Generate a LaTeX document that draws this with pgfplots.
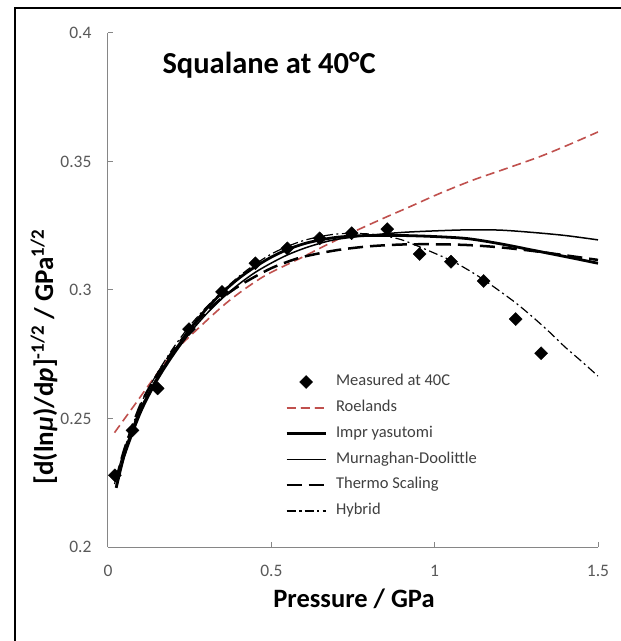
\documentclass[border=0pt]{standalone}
\usepackage{pgfplots}
\pgfplotsset{compat=1.18}
\usepackage{fontspec}
\setmainfont{Carlito}
\definecolor{axisgray}{HTML}{868686}
\definecolor{tickgray}{HTML}{595959}
\definecolor{legtext}{HTML}{404040}
\definecolor{roelred}{HTML}{C0504D}

\begin{document}
\begin{tikzpicture}
\useasboundingbox (0,0) rectangle (621pt,641pt);
\fill[white] (0,0) rectangle (621pt,641pt);
% outer frame (left and top edges visible)
\draw[black, line width=1.5pt] (15pt,0pt) -- (15pt,633pt) -- (621pt,633pt);

\begin{axis}[
  at={(108pt,94pt)}, anchor=south west,
  scale only axis, width=490pt, height=514pt,
  xmin=0, xmax=1.5, ymin=0.2, ymax=0.4,
  xtick={0,0.5,1,1.5},
  ytick={0.2,0.25,0.3,0.35,0.4},
  scaled y ticks=false,
  axis x line=bottom, axis y line=left,
  axis line style={-, draw=axisgray, line width=1pt},
  tick style={draw=axisgray, line width=1pt},
  tick align=inside, major tick length=5pt,
  ticklabel style={font=\fontsize{17.5}{19}\selectfont, text=tickgray},
  /pgf/number format/assume math mode=true,
  yticklabel style={/pgf/number format/fixed, /pgf/number format/precision=2, xshift=-13pt},
  xticklabel style={yshift=-15pt},
  legend cell align=left,
  legend style={at={(axis cs:0.542,0.2391)}, anchor=west,
    draw=none, fill=none, inner sep=0pt,
    font=\fontsize{16.5}{18}\selectfont, text=legtext,
    row sep=12.3pt, column sep=9pt,
    nodes={inner sep=0pt, text height=10.5pt, text depth=3pt}},
  legend image code/.code={
    \draw[mark repeat=2, mark phase=2, #1]
      plot coordinates {(0pt,0pt) (19.5pt,0pt) (39pt,0pt)};},
]
% measured data
\addplot[only marks, mark=square*, mark size=4.6pt,
  mark options={rotate=45, fill=black, draw=black}]
  coordinates {
    (0.021,0.2279) (0.075,0.2454) (0.152,0.2617) (0.248,0.2848)
    (0.349,0.2993) (0.451,0.3104) (0.549,0.3162) (0.648,0.3201)
    (0.746,0.3221) (0.855,0.3237) (0.954,0.3140) (1.050,0.3110)
    (1.150,0.3035) (1.248,0.2887) (1.326,0.2754)
  };
\addlegendentry{Measured at 40C}
% Roelands
\addplot[roelred, line width=1.6pt, dash pattern=on 9pt off 5pt, smooth]
  coordinates {
    (0.02,0.2445) (0.0775,0.2546) (0.19,0.2741) (0.2816,0.2857)
    (0.3734,0.2961) (0.4755,0.3052) (0.5877,0.3123) (0.659,0.3169)
    (0.746,0.3223) (0.843,0.3279) (0.924,0.3324) (1.016,0.3376)
    (1.118,0.3428) (1.22,0.3473) (1.322,0.3519) (1.41,0.3565) (1.5,0.3615)
  };
\addlegendentry{Roelands}
% Impr yasutomi
\addplot[black, line width=2.8pt, smooth]
  coordinates {
    (0.025,0.223) (0.05,0.236) (0.075,0.2455) (0.1,0.2535) (0.15,0.2655)
    (0.2,0.2755) (0.25,0.2845) (0.3,0.2925) (0.35,0.2990) (0.4,0.3045)
    (0.45,0.3090) (0.5,0.3128) (0.55,0.3158) (0.6,0.3180) (0.65,0.3195)
    (0.7,0.3205) (0.75,0.3210) (0.8,0.3212) (0.9,0.3212) (1.0,0.3208)
    (1.1,0.3200) (1.2,0.3180) (1.3,0.3155) (1.4,0.3130) (1.5,0.3104)
  };
\addlegendentry{Impr yasutomi}
% Murnaghan-Doolittle
\addplot[black, line width=1.5pt, smooth]
  coordinates {
    (0.025,0.224) (0.05,0.235) (0.1,0.252) (0.15,0.2645) (0.2,0.2745)
    (0.25,0.2832) (0.3,0.2905) (0.35,0.2968) (0.4,0.3022) (0.45,0.3068)
    (0.5,0.3105) (0.55,0.3137) (0.6,0.3162) (0.65,0.3182) (0.7,0.3197)
    (0.8,0.3213) (0.9,0.3224) (1.0,0.3230) (1.1,0.3234) (1.2,0.3233)
    (1.3,0.3224) (1.4,0.3212) (1.5,0.3195)
  };
\addlegendentry{Murnaghan-Doolittle}
% Thermo Scaling
\addplot[black, line width=2.5pt, dash pattern=on 15pt off 7pt, smooth]
  coordinates {
    (0.025,0.226) (0.05,0.238) (0.1,0.2555) (0.15,0.267) (0.2,0.2765)
    (0.25,0.2845) (0.3,0.2915) (0.35,0.2970) (0.4,0.3015) (0.45,0.3052)
    (0.5,0.3085) (0.55,0.3110) (0.6,0.3130) (0.7,0.3155) (0.8,0.3170)
    (0.9,0.3177) (1.0,0.3178) (1.1,0.3175) (1.2,0.3166) (1.3,0.3152)
    (1.4,0.3135) (1.5,0.3117)
  };
\addlegendentry{Thermo Scaling}
% Hybrid
\addplot[black, line width=1.2pt, dash pattern=on 9pt off 3.5pt on 2pt off 3.5pt, smooth]
  coordinates {
    (0.02,0.2245) (0.05,0.238) (0.1,0.2555) (0.15,0.2675) (0.2,0.2775)
    (0.25,0.2860) (0.3,0.2932) (0.35,0.2995) (0.4,0.3052) (0.45,0.3100)
    (0.5,0.3140) (0.55,0.3170) (0.6,0.3193) (0.65,0.3208) (0.7,0.3218)
    (0.75,0.3220) (0.8,0.3218) (0.85,0.3210) (0.9,0.3195) (0.95,0.3170)
    (1.0,0.3143) (1.05,0.3115) (1.1,0.3080) (1.15,0.3040) (1.2,0.2995)
    (1.25,0.2948) (1.3,0.2895) (1.35,0.2838) (1.4,0.2777) (1.45,0.2722)
    (1.5,0.2665)
  };
\addlegendentry{Hybrid}
\end{axis}

\node[anchor=base west, font=\fontsize{30.5}{34}\selectfont\bfseries]
  at (159pt,567pt) {Squalane at 40°C};
\node[anchor=base, font=\fontsize{26.5}{30}\selectfont\bfseries]
  at (354pt,33pt) {Pressure / GPa};
\node[rotate=90, anchor=center, font=\fontsize{27}{30}\selectfont\bfseries]
  at (44pt,284pt)
  {[d(ln\textit{μ})/d\textit{p}]\textsuperscript{-1/2} / GPa\textsuperscript{1/2}};
\end{tikzpicture}
\end{document}
